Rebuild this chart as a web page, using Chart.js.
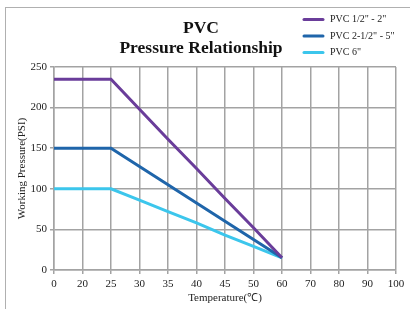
<!DOCTYPE html>
<html>
<head>
<meta charset="utf-8">
<script src="https://cdn.jsdelivr.net/npm/chart.js@4/dist/chart.umd.min.js"></script>
<style>
  html, body { margin: 0; padding: 0; background: #fff; }
  #wrap { position: relative; width: 410px; height: 309px; }
</style>
</head>
<body>
<div id="wrap"><canvas id="chart" width="410" height="309"></canvas></div>
<script>
const temps = ['0', '20', '25', '30', '35', '40', '45', '50', '60', '70', '80', '90', '100'];
const small = [235, 235, 235, 198, 161, 125, 88, 52, 15];
const mid = [150, 150, 150, 127.5, 105, 82.5, 60, 37.5, 15];
const large = [100, 100, 100, 86, 72, 58, 43, 29, 15];
const seriesNames = ['PVC 1/2" - 2"', 'PVC 2-1/2" - 5"', 'PVC 6"'];
const yTicks = [0, 50, 100, 150, 200, 250];

const serif = '"Liberation Serif", "Times New Roman", serif';
const colors = ['#6a3d9a', '#1f65aa', '#3cc6ec'];

// title, legend and outer frame drawn on the canvas
const decor = {
  id: 'decor',
  afterDraw(chart) {
    const ctx = chart.ctx;
    ctx.save();
    ctx.strokeStyle = '#b0b0b0';
    ctx.lineWidth = 1;
    ctx.strokeRect(5.5, 7.5, 420, 320);

    ctx.fillStyle = '#111';
    ctx.textAlign = 'center';
    ctx.textBaseline = 'middle';
    ctx.font = 'bold 17.5px ' + serif;
    ctx.fillText('PVC', 201, 28);
    ctx.fillText('Pressure Relationship', 201, 48);

    chart.data.datasets.forEach((ds, i) => {
      const y = 19.5 + i * 16.5;
      ctx.strokeStyle = ds.borderColor;
      ctx.lineWidth = 3;
      ctx.lineCap = 'round';
      ctx.beginPath();
      ctx.moveTo(304, y);
      ctx.lineTo(323, y);
      ctx.stroke();
      ctx.fillStyle = '#222';
      ctx.textAlign = 'left';
      ctx.font = '10px ' + serif;
      ctx.fillText(ds.label, 330, y);
    });
    ctx.restore();
  }
};

new Chart(document.getElementById('chart'), {
  type: 'line',
  data: {
    labels: temps,
    datasets: [
      { label: seriesNames[0], data: small, borderColor: colors[0] },
      { label: seriesNames[1], data: mid, borderColor: colors[1] },
      { label: seriesNames[2], data: large, borderColor: colors[2] },
    ],
  },
  options: {
    responsive: false,
    animation: false,
    devicePixelRatio: 1,
    layout: { padding: { top: 67, right: 14, left: 0, bottom: 0 } },
    elements: {
      line: { borderWidth: 3, tension: 0, borderJoinStyle: 'miter' },
      point: { radius: 0 },
    },
    plugins: { legend: { display: false }, title: { display: false }, tooltip: { enabled: false } },
    scales: {
      x: {
        type: 'category',
        offset: false,
        grid: { color: '#a3a3a3', lineWidth: 1.5, tickLength: 4, tickColor: '#a3a3a3' },
        border: { color: '#a3a3a3', width: 1.5 },
        ticks: { color: '#222', font: { family: serif, size: 11 }, maxRotation: 0, autoSkip: false, padding: 4 },
        title: { display: true, text: 'Temperature(℃)', color: '#222', font: { family: serif, size: 11 }, padding: { top: 12 } },
        afterFit(scale) { scale.height = 39; },
      },
      y: {
        min: 0,
        max: 250,
        afterBuildTicks(scale) { scale.ticks = yTicks.map((v) => ({ value: v })); },
        grid: { color: '#a3a3a3', lineWidth: 1.5, tickLength: 4, tickColor: '#a3a3a3' },
        border: { color: '#a3a3a3', width: 1.5 },
        ticks: { color: '#222', font: { family: serif, size: 11 }, padding: 3 },
        title: { display: true, text: 'Working Pressure(PSI)', color: '#222', font: { family: serif, size: 11 }, padding: { top: 16, bottom: 0 } },
        afterFit(scale) { scale.width = 54; },
      },
    },
  },
  plugins: [decor],
});
</script>
</body>
</html>
